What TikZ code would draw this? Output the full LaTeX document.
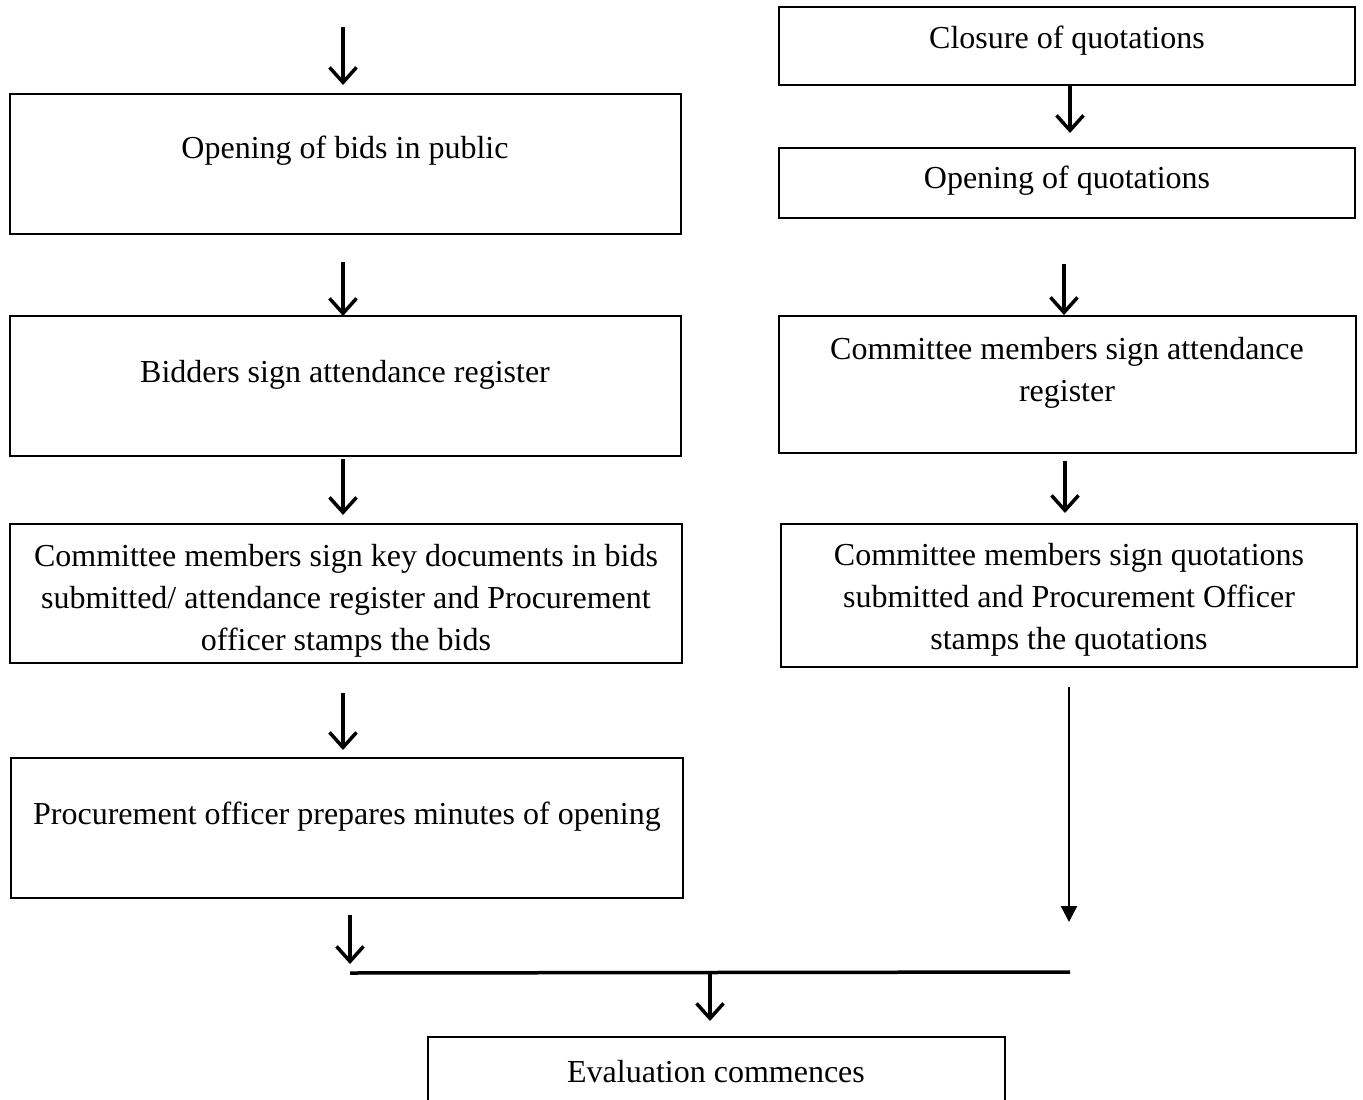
\documentclass[tikz,border=0pt]{standalone}
\usepackage{fontspec}
\setmainfont{Liberation Serif}
\usetikzlibrary{arrows.meta}
\begin{document}
\begin{tikzpicture}[x=1pt,y=-1pt,
  box/.style={draw, line width=2.7pt, inner sep=0pt},
  lbl/.style={align=center, font=\fontsize{32}{42}\selectfont, inner sep=0pt},
  flow/.style={line width=3.5pt, -{Straight Barb[length=15pt,width=27pt,line width=3.5pt]}},
  longflow/.style={line width=2.4pt, -{Triangle[length=16pt,width=16pt]}},
  joinline/.style={line width=3.5pt}]
\useasboundingbox (0,0) rectangle (1363,1100);

% bid path (left column)
\node[box, minimum width=671pt, minimum height=140pt] (b1) at (345.5,164) {};
\node[lbl] (t1) at (345,151) {Opening of bids in public};
\node[box, minimum width=671pt, minimum height=140pt] (b2) at (345.5,386) {};
\node[lbl] (t2) at (345,375) {Bidders sign attendance register};
\node[box, minimum width=672pt, minimum height=139pt] (b3) at (346,593.5) {};
\node[lbl] (t3) at (346,601) {Committee members sign key documents in bids\\submitted/ attendance register and Procurement\\officer stamps the bids};
\node[box, minimum width=672pt, minimum height=140pt] (b4) at (347,828) {};
\node[lbl] (t4) at (347,817) {Procurement officer prepares minutes of opening};

% quotation path (right column)
\node[box, minimum width=576pt, minimum height=78pt] (r1) at (1067,46) {};
\node[lbl] (u1) at (1067,41) {Closure of quotations};
\node[box, minimum width=576pt, minimum height=70pt] (r2) at (1067,183) {};
\node[lbl] (u2) at (1067,181) {Opening of quotations};
\node[box, minimum width=577pt, minimum height=137pt] (r3) at (1067.5,384.5) {};
\node[lbl] (u3) at (1067,373) {Committee members sign attendance\\register};
\node[box, minimum width=576pt, minimum height=143pt] (r4) at (1069,595.5) {};
\node[lbl] (u4) at (1069,600) {Committee members sign quotations\\submitted and Procurement Officer\\stamps the quotations};

% final step
\node[box, minimum width=577pt, minimum height=68pt] (ev) at (716.5,1071) {};
\node[lbl] (v1) at (716,1072) {Evaluation commences};

% arrow ends
\coordinate (a0s) at (343,27);   \coordinate (a0e) at (343,85);
\coordinate (a1s) at (343,262);  \coordinate (a1e) at (343,316);
\coordinate (a2s) at (343,459);  \coordinate (a2e) at (343,515);
\coordinate (a3s) at (343,693);  \coordinate (a3e) at (343,750);
\coordinate (a4s) at (350,915);  \coordinate (a4e) at (350,964);
\coordinate (c1s) at (1070,85);  \coordinate (c1e) at (1070,133);
\coordinate (c2s) at (1064,264); \coordinate (c2e) at (1064,315);
\coordinate (c3s) at (1065,461); \coordinate (c3e) at (1065,513);
\coordinate (c4s) at (1069,687); \coordinate (c4e) at (1069,922);
\coordinate (jl) at (350,973);   \coordinate (jr) at (1070,972);
\coordinate (jm) at (710,972);   \coordinate (je) at (710,1021);

\draw[flow] (a0s) -- (a0e);
\draw[flow] (a1s) -- (a1e);
\draw[flow] (a2s) -- (a2e);
\draw[flow] (a3s) -- (a3e);
\draw[flow] (a4s) -- (a4e);
\draw[flow] (c1s) -- (c1e);
\draw[flow] (c2s) -- (c2e);
\draw[flow] (c3s) -- (c3e);
\draw[longflow] (c4s) -- (c4e);
\draw[joinline] (jl) -- (jr);
\draw[flow] (jm) -- (je);
\end{tikzpicture}
\end{document}
